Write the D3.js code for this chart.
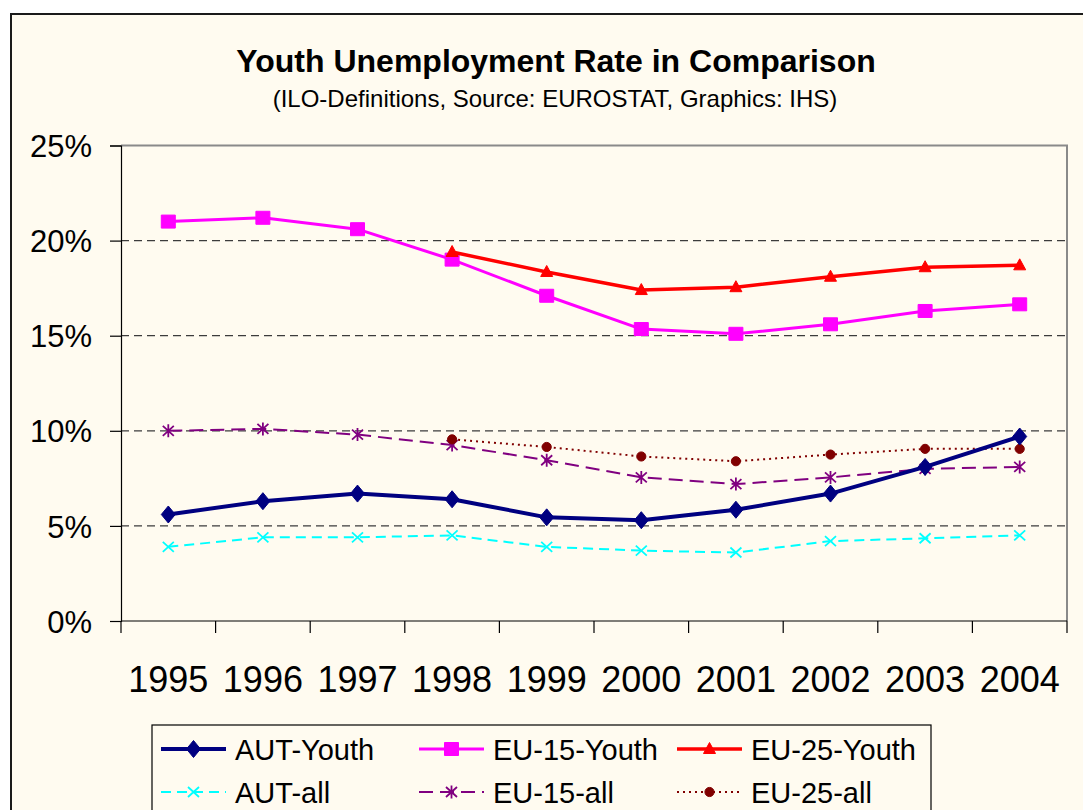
<!DOCTYPE html>
<html>
<head>
<meta charset="utf-8">
<script src="https://cdn.jsdelivr.net/npm/d3@7"></script>
<style>
  html, body { margin: 0; padding: 0; background: #ffffff; }
  svg { display: block; font-family: "Liberation Sans", Arial, sans-serif; }
</style>
</head>
<body>
<svg id="chart" width="1083" height="810"></svg>
<script>
// Years on the category axis
const years = ["1995", "1996", "1997", "1998", "1999", "2000", "2001", "2002", "2003", "2004"];

// Unemployment rates in percent (null = not available)
const autYouth  = [5.6, 6.3, 6.7, 6.4, 5.45, 5.3, 5.85, 6.7, 8.1, 9.7];
const eu15Youth = [21.0, 21.2, 20.6, 19.0, 17.1, 15.35, 15.1, 15.6, 16.3, 16.65];
const eu25Youth = [null, null, null, 19.4, 18.35, 17.4, 17.55, 18.1, 18.6, 18.7];
const autAll    = [3.9, 4.4, 4.4, 4.5, 3.9, 3.7, 3.6, 4.2, 4.35, 4.5];
const eu15All   = [10.0, 10.1, 9.8, 9.25, 8.45, 7.55, 7.2, 7.55, 8.0, 8.1];
const eu25All   = [null, null, null, 9.55, 9.15, 8.65, 8.4, 8.75, 9.05, 9.05];

const yTicks = [0, 5, 10, 15, 20, 25];

const seriesNames = ["AUT-Youth", "EU-15-Youth", "EU-25-Youth", "AUT-all", "EU-15-all", "EU-25-all"];

const series = [
  { name: seriesNames[0], values: autYouth,  color: "#000080", width: 4,   dash: null,   marker: "diamond" },
  { name: seriesNames[1], values: eu15Youth, color: "#ff00ff", width: 3,   dash: null,   marker: "square" },
  { name: seriesNames[2], values: eu25Youth, color: "#ff0000", width: 3.5, dash: null,   marker: "triangle" },
  { name: seriesNames[3], values: autAll,    color: "#00ffff", width: 2,   dash: "10,6", marker: "x" },
  { name: seriesNames[4], values: eu15All,   color: "#800080", width: 2,   dash: "14,7", marker: "star" },
  { name: seriesNames[5], values: eu25All,   color: "#800000", width: 2,   dash: "2,4",  marker: "circle" }
];

const svg = d3.select("#chart");
const bg = "#fffbf0";

// Chart area with dark frame
svg.append("rect")
  .attr("x", 11).attr("y", 14).attr("width", 1100).attr("height", 820)
  .attr("fill", bg).attr("stroke", "#1a1a1a").attr("stroke-width", 2);

// Titles
svg.append("text")
  .attr("x", 556).attr("y", 71.5)
  .attr("text-anchor", "middle")
  .attr("font-size", 32).attr("font-weight", "bold")
  .text("Youth Unemployment Rate in Comparison");

svg.append("text")
  .attr("x", 555).attr("y", 106.5)
  .attr("text-anchor", "middle")
  .attr("font-size", 24)
  .text("(ILO-Definitions, Source: EUROSTAT, Graphics: IHS)");

// Plot area
const plot = { left: 121, right: 1067, top: 145.5, bottom: 621 };

const x = d3.scaleBand().domain(years).range([plot.left, plot.right]).padding(0);
const y = d3.scaleLinear().domain([0, 25]).range([plot.bottom, plot.top]);
const cx = d => x(d) + x.bandwidth() / 2;

// Horizontal gridlines
svg.append("g")
  .selectAll("line")
  .data(yTicks.filter(t => t > 0 && t < 25))
  .join("line")
  .attr("x1", plot.left).attr("x2", plot.right)
  .attr("y1", d => y(d)).attr("y2", d => y(d))
  .attr("stroke", "#3c3c3c").attr("stroke-width", 1.3)
  .attr("stroke-dasharray", "8,5");

// Top and right frame of the plot area
svg.append("path")
  .attr("d", `M${plot.left},${y(25)}H${plot.right}V${plot.bottom}`)
  .attr("fill", "none").attr("stroke", "#8a8a8a").attr("stroke-width", 2);

// Y axis
const yAxis = d3.axisLeft(y)
  .tickValues(yTicks)
  .tickSize(11)
  .tickPadding(18)
  .tickFormat(d => d + "%");

const gy = svg.append("g")
  .attr("transform", `translate(${plot.left},0)`)
  .call(yAxis);
gy.select(".domain").attr("stroke", "#000").attr("stroke-width", 1.2);
gy.selectAll(".tick line").attr("stroke", "#000").attr("stroke-width", 1.2);
gy.selectAll(".tick text")
  .attr("font-size", 31)
  .attr("font-family", "'Liberation Sans', Arial, sans-serif")
  .attr("fill", "#000")
  .attr("dy", "0.36em");

// X axis: tick marks at category boundaries, labels at category centres
const gx = svg.append("g").attr("transform", `translate(0,${plot.bottom})`);
gx.append("line")
  .attr("x1", plot.left).attr("x2", plot.right)
  .attr("stroke", "#000").attr("stroke-width", 1.2);
const boundaries = years.map(d => x(d)).concat([plot.right]);
gx.selectAll("line.tick")
  .data(boundaries)
  .join("line")
  .attr("class", "tick")
  .attr("x1", d => d).attr("x2", d => d)
  .attr("y1", 0).attr("y2", 12)
  .attr("stroke", "#000").attr("stroke-width", 1.2);
gx.selectAll("text")
  .data(years)
  .join("text")
  .attr("x", d => cx(d))
  .attr("y", 71)
  .attr("text-anchor", "middle")
  .attr("font-size", 36)
  .text(d => d);

// Marker shapes
function markerPath(type) {
  switch (type) {
    case "diamond": return "M0,-8.5L7,0L0,8.5L-7,0Z";
    case "square": return "M-7,-6.5H7V6.5H-7Z";
    case "triangle": return "M0,-6.5L6,4.5H-6Z";
    case "x": return "M-5.5,-5L5.5,5M-5.5,5L5.5,-5";
    case "star": return "M-5.5,-5L5.5,5M-5.5,5L5.5,-5M0,-6.5V6.5";
    case "circle": return d3.symbol(d3.symbolCircle, 66)();
  }
}
const strokedMarker = t => t === "x" || t === "star";

const line = d3.line()
  .defined(d => d.v != null)
  .x(d => cx(d.year))
  .y(d => y(d.v));

function drawMarkers(g, s, pts) {
  g.selectAll("path.m")
    .data(pts)
    .join("path")
    .attr("class", "m")
    .attr("transform", d => `translate(${d[0]},${d[1]})`)
    .attr("d", markerPath(s.marker))
    .attr("fill", strokedMarker(s.marker) ? "none" : s.color)
    .attr("stroke", s.color)
    .attr("stroke-width", strokedMarker(s.marker) ? 1.8 : 1);
}

// Draw the series, the "all" series first, youth series on top
const drawOrder = [3, 4, 5, 0, 1, 2];
drawOrder.forEach(i => {
  const s = series[i];
  const data = years.map((yr, k) => ({ year: yr, v: s.values[k] }));
  const g = svg.append("g").attr("class", "series");
  g.append("path")
    .datum(data)
    .attr("d", line)
    .attr("fill", "none")
    .attr("stroke", s.color)
    .attr("stroke-width", s.width)
    .attr("stroke-dasharray", s.dash)
    .attr("stroke-linejoin", "round");
  drawMarkers(g, s, data.filter(d => d.v != null).map(d => [cx(d.year), y(d.v)]));
});

// Legend
const legend = svg.append("g");
legend.append("rect")
  .attr("x", 152).attr("y", 725).attr("width", 779).attr("height", 120)
  .attr("fill", bg).attr("stroke", "#000").attr("stroke-width", 1.2);

const colX = [161, 419, 677];
const rowY = [749, 792];
series.forEach((s, i) => {
  const x0 = colX[i % 3], y0 = rowY[Math.floor(i / 3)];
  const g = legend.append("g");
  g.append("line")
    .attr("x1", x0).attr("x2", x0 + 65)
    .attr("y1", y0).attr("y2", y0)
    .attr("stroke", s.color)
    .attr("stroke-width", s.width)
    .attr("stroke-dasharray", s.dash);
  drawMarkers(g, s, [[x0 + 32.5, y0]]);
  g.append("text")
    .attr("x", x0 + 74).attr("y", y0 + 10.5)
    .attr("font-size", 29)
    .text(s.name);
});
</script>
</body>
</html>
